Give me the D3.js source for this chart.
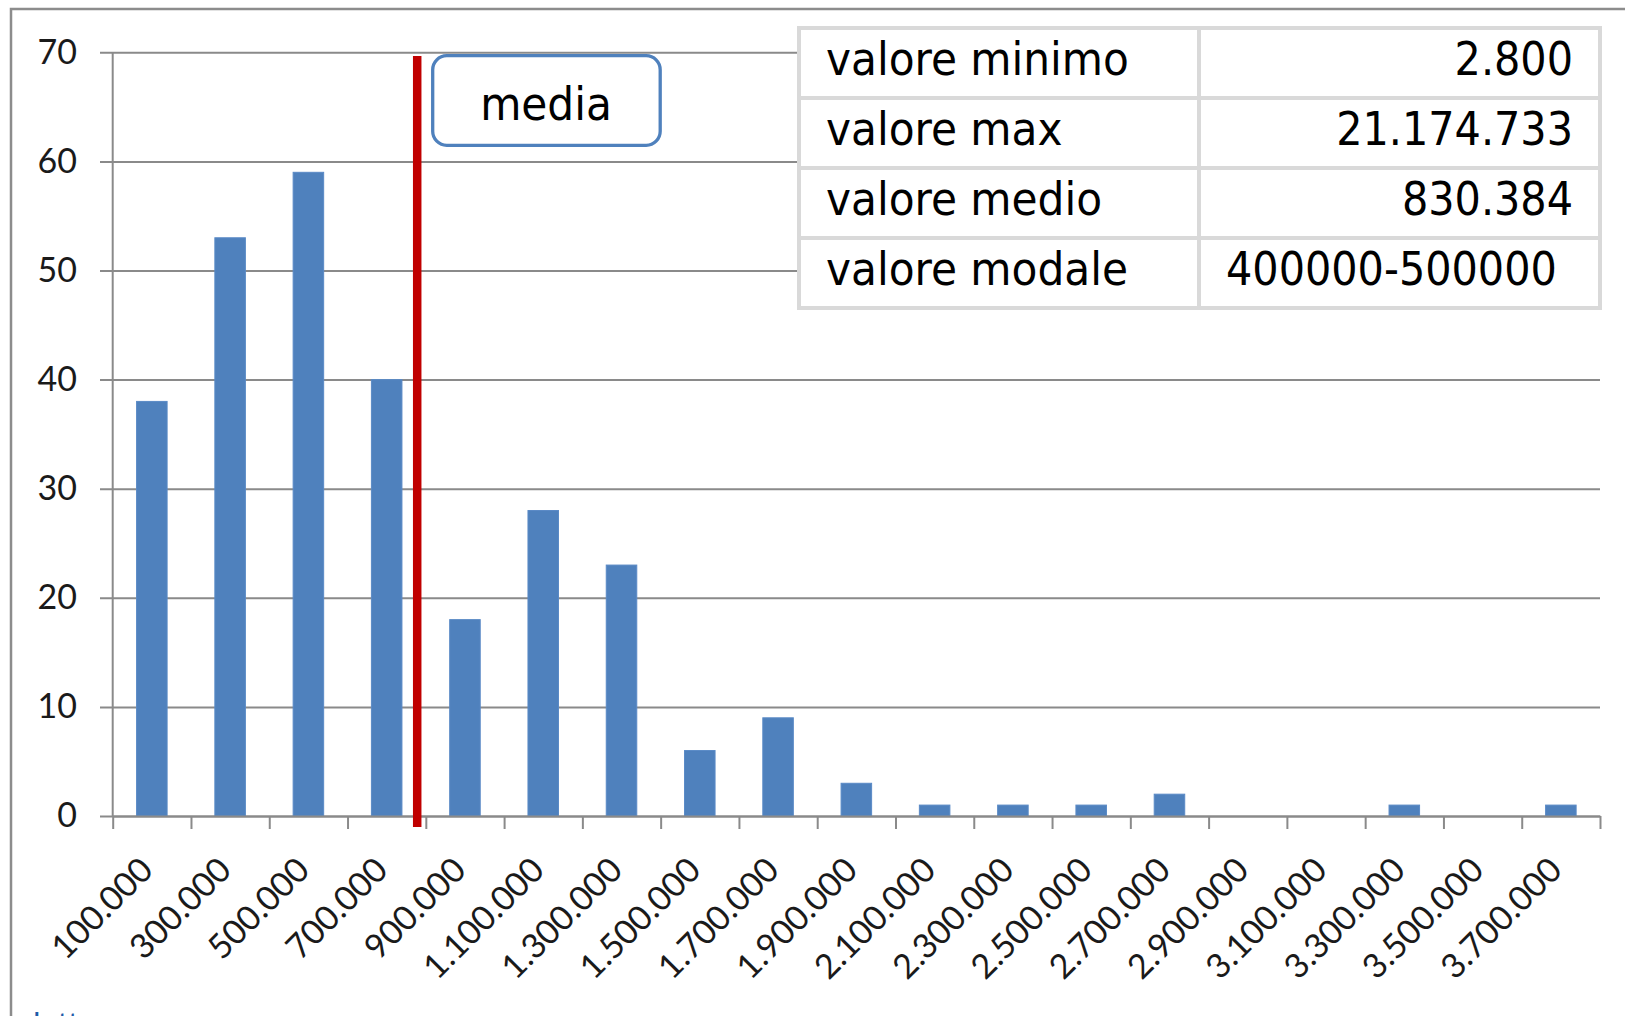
<!DOCTYPE html>
<html>
<head>
<meta charset="utf-8">
<script src="https://cdn.jsdelivr.net/npm/d3@7"></script>
<style>
  html, body { margin: 0; padding: 0; background: #fff; }
  svg { display: block; }
  .tick text { font-family: Lato, "Open Sans", sans-serif; }
</style>
</head>
<body>
<div id="chart"></div>
<script>
// bins (upper label of each class) and how many values fall in each
const binLabels = ['100.000', '300.000', '500.000', '700.000', '900.000', '1.100.000', '1.300.000',
  '1.500.000', '1.700.000', '1.900.000', '2.100.000', '2.300.000', '2.500.000', '2.700.000',
  '2.900.000', '3.100.000', '3.300.000', '3.500.000', '3.700.000'];
const counts = [38, 53, 59, 40, 18, 28, 23, 6, 9, 3, 1, 1, 1, 2, 0, 0, 1, 0, 1];
const yTicks = [0, 10, 20, 30, 40, 50, 60, 70];

// where the red "media" line sits, in bin units (as drawn in the picture)
const mediaAt = 3.89;
const mediaLabel = 'media';

const statLabels = ['valore minimo', 'valore max', 'valore medio', 'valore modale'];
const statValues = ['2.800', '21.174.733', '830.384', '400000-500000'];

const W = 1625, H = 1016;
const plotL = 112.7, plotR = 1600, plotT = 52.3, plotB = 816;

const svg = d3.select('#chart').append('svg')
  .attr('width', W)
  .attr('height', H);

svg.append('rect').attr('width', W).attr('height', H).attr('fill', '#fff');

// frame of the chart object
svg.append('rect')
  .attr('x', 11).attr('y', 9)
  .attr('width', 1700).attr('height', 1200)
  .attr('fill', 'none')
  .attr('stroke', '#8c8c8c')
  .attr('stroke-width', 2.5);

const y = d3.scaleLinear().domain([0, 70]).range([plotB, plotT]);
const x = d3.scaleBand().domain(binLabels).range([plotL, plotR])
  .paddingInner(0.61).paddingOuter(0.305);
const xIdx = d3.scaleLinear().domain([0, binLabels.length]).range([plotL, plotR]);

// gridlines + y labels
const yAxis = svg.append('g')
  .attr('transform', 'translate(100,0)')
  .call(d3.axisLeft(y).tickValues(yTicks).tickSize(-(plotR - 100)).tickPadding(23));
yAxis.select('.domain').remove();
yAxis.selectAll('.tick line').attr('stroke', '#8a8a8a').attr('stroke-width', 2);
yAxis.selectAll('.tick text')
  .attr('font-size', 34)
  .attr('fill', '#1a1a1a');

// vertical axis line
svg.append('line')
  .attr('x1', plotL).attr('x2', plotL)
  .attr('y1', plotT).attr('y2', plotB)
  .attr('stroke', '#8a8a8a').attr('stroke-width', 2);

// bars
svg.append('g').selectAll('rect')
  .data(counts)
  .join('rect')
  .attr('x', (d, i) => x(binLabels[i]))
  .attr('y', d => y(d))
  .attr('width', x.bandwidth())
  .attr('height', d => y(0) - y(d))
  .attr('fill', '#4f81bd')
  .attr('stroke', '#5a8ac6')
  .attr('stroke-width', 1);

// x axis: tick marks on the bin boundaries
const xAxis = svg.append('g')
  .attr('transform', `translate(0,${plotB})`)
  .call(d3.axisBottom(xIdx).tickValues(d3.range(binLabels.length + 1)).tickFormat('').tickSize(13).tickSizeOuter(0));
xAxis.select('.domain').attr('stroke', '#8a8a8a').attr('stroke-width', 2);
xAxis.selectAll('.tick line').attr('stroke', '#8a8a8a').attr('stroke-width', 2);

// rotated bin labels
svg.append('g').selectAll('text')
  .data(binLabels)
  .join('text')
  .attr('transform', d => `translate(${x(d) + x.bandwidth() / 2 + 3},${plotB + 56}) rotate(-45)`)
  .attr('text-anchor', 'end')
  .attr('font-family', 'Lato, "Open Sans", sans-serif')
  .attr('font-size', 34)
  .attr('fill', '#1a1a1a')
  .text(d => d);

// red line for the mean
svg.append('line')
  .attr('x1', xIdx(mediaAt)).attr('x2', xIdx(mediaAt))
  .attr('y1', 56).attr('y2', 827)
  .attr('stroke', '#c00000')
  .attr('stroke-width', 8.5);

// "media" callout
svg.append('rect')
  .attr('x', 432.7).attr('y', 55.7)
  .attr('width', 227.5).attr('height', 89.6)
  .attr('rx', 14)
  .attr('fill', '#fff')
  .attr('stroke', '#4f81bd')
  .attr('stroke-width', 3.3);
svg.append('text')
  .attr('x', 546).attr('y', 120)
  .attr('text-anchor', 'middle')
  .attr('font-family', '"DejaVu Sans Condensed", "DejaVu Sans", sans-serif')
  .attr('font-stretch', 'condensed')
  .attr('font-size', 47)
  .attr('fill', '#000')
  .text(mediaLabel);

// stats table
const tX0 = 799, tX1 = 1600, tCol = 1199, tY0 = 28, rowH = 70;
const table = svg.append('g');
table.append('rect')
  .attr('x', tX0).attr('y', tY0)
  .attr('width', tX1 - tX0).attr('height', rowH * statLabels.length)
  .attr('fill', '#fff');

const rows = table.selectAll('g.row')
  .data(statLabels)
  .join('g')
  .attr('class', 'row')
  .attr('transform', (d, i) => `translate(0,${tY0 + i * rowH})`);

rows.append('text')
  .attr('x', tX0 + 27)
  .attr('y', 47)
  .attr('font-family', '"DejaVu Sans Condensed", "DejaVu Sans", sans-serif')
  .attr('font-stretch', 'condensed')
  .attr('font-size', 47)
  .attr('fill', '#000')
  .text(d => d);

rows.append('text')
  .datum((d, i) => statValues[i])
  .attr('x', d => /^[\d.]+$/.test(d) ? tX1 - 27 : tCol + 27)
  .attr('y', 47)
  .attr('text-anchor', d => /^[\d.]+$/.test(d) ? 'end' : 'start')
  .attr('font-family', '"DejaVu Sans Condensed", "DejaVu Sans", sans-serif')
  .attr('font-stretch', 'condensed')
  .attr('font-size', 46)
  .attr('fill', '#000')
  .text(d => d);

// grid of the table
const tableGrid = table.append('g')
  .attr('stroke', '#d9d9d9')
  .attr('stroke-width', 4)
  .attr('fill', 'none');
tableGrid.append('rect')
  .attr('x', tX0).attr('y', tY0)
  .attr('width', tX1 - tX0).attr('height', rowH * statLabels.length);
tableGrid.selectAll('line.h')
  .data(d3.range(1, statLabels.length))
  .join('line')
  .attr('x1', tX0).attr('x2', tX1)
  .attr('y1', i => tY0 + i * rowH).attr('y2', i => tY0 + i * rowH);
tableGrid.append('line')
  .attr('x1', tCol).attr('x2', tCol)
  .attr('y1', tY0).attr('y2', tY0 + rowH * statLabels.length);

// cut-off slide text peeking at the bottom
svg.append('text')
  .attr('x', 33).attr('y', 1036)
  .attr('font-family', 'Lato, sans-serif')
  .attr('font-size', 32)
  .attr('fill', '#1f5ba8')
  .text('lettura');
</script>
</body>
</html>
